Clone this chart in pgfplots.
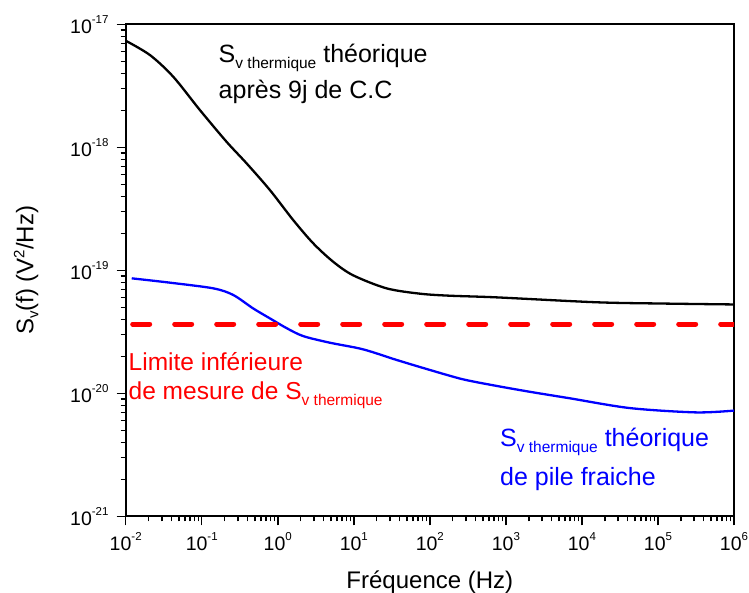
\documentclass[border=0pt]{standalone}
\usepackage{fontspec}
\setmainfont{Liberation Sans}
\usepackage{pgfplots}
\pgfplotsset{compat=1.18}
\newcommand{\sub}[1]{\raisebox{-6pt}{\fontsize{15.5}{15.5}\selectfont #1}}
\newcommand{\sups}[1]{\raisebox{10pt}{\fontsize{11.5}{11.5}\selectfont #1}}
\newcommand{\lsub}[1]{\raisebox{-5pt}{\fontsize{15}{15}\selectfont #1}}
\newcommand{\lsup}[1]{\raisebox{9pt}{\fontsize{15}{15}\selectfont #1}}
\definecolor{myred}{RGB}{255,0,0}
\definecolor{myblue}{RGB}{0,0,255}

\pgfplotstableread{
x y
0.01 7.36e-18
0.0209 5.62e-18
0.0422 3.75e-18
0.0946 2.01e-18
0.212 1.11e-18
0.389 7.41e-19
0.787 4.50e-19
1.59 2.57e-19
2.92 1.66e-19
5.35 1.175e-19
9.77 9.12e-20
26.9 7.14e-20
74.1 6.46e-20
182 6.22e-20
750 6.03e-20
15500 5.50e-20
116000 5.37e-20
1000000 5.28e-20
}\blackdata

\pgfplotstableread{
x y
0.0120 8.61e-20
0.0382 7.94e-20
0.1416 7.14e-20
0.259 6.31e-20
0.475 4.90e-20
0.787 4.07e-20
1.306 3.39e-20
2.16 2.92e-20
4.84 2.58e-20
13.2 2.28e-20
36.4 1.87e-20
99.8 1.55e-20
273 1.30e-20
750 1.15e-20
2056 1.03e-20
6890 9.12e-21
42700 7.59e-21
316000 7.00e-21
1000000 7.24e-21
}\bluedata

\begin{document}
\begin{tikzpicture}
\path[use as bounding box] (-125.7pt,-75.7pt) rectangle (623.3pt,516.3pt);
\begin{axis}[
  at={(0pt,0pt)}, anchor=south west,
  scale only axis, width=608.3pt, height=492pt,
  xmode=log, ymode=log,
  xmin=1e-2, xmax=1e6, ymin=1e-21, ymax=1e-17,
  axis line style={line width=2pt},
  tick align=outside, xtick pos=bottom, ytick pos=left,
  major tick length=9pt, minor tick length=5pt,
  every tick/.style={black, line width=1.5pt},
  /pgf/number format/assume math mode=true,
  log number format basis/.code 2 args={10\sups{\pgfmathprintnumber{#2}}},
  ticklabel style={font=\fontsize{19.5}{19.5}\selectfont},
  xticklabel style={anchor=base, inner sep=0pt, yshift=-25pt},
  yticklabel style={anchor=east, inner sep=0pt, xshift=-8pt},
  xlabel={Fréquence (Hz)},
  xlabel style={at={(rel axis cs:0.5,-0.1457)}, anchor=base, inner sep=0pt, font=\fontsize{24}{24}\selectfont},
  ylabel={S\lsub{v}(f) (V\lsup{2}/Hz)},
  ylabel style={at={(rel axis cs:-0.1516,0.5)}, anchor=base, inner sep=0pt, font=\fontsize{24}{24}\selectfont},
  clip=true,
]
\addplot[black, line width=2.3pt, smooth] table {\blackdata};
\addplot[myblue, line width=2.3pt, smooth] table {\bluedata};
\addplot[myred, line width=5pt, line cap=round, dash pattern=on 17pt off 25pt, dash phase=35pt] coordinates {(0.01,3.66e-20) (1000000,3.66e-20)};

\node[anchor=base west, inner sep=0pt, font=\fontsize{25}{25}\selectfont] at (rel axis cs:0.1526,0.9234) {S\sub{v thermique} théorique};
\node[anchor=base west, inner sep=0pt, font=\fontsize{25}{25}\selectfont] at (rel axis cs:0.1526,0.8502) {après 9j de C.C};

\node[anchor=base west, inner sep=0pt, text=myred, font=\fontsize{24.5}{24.5}\selectfont] at (rel axis cs:0.0046,0.2974) {Limite inférieure};
\node[anchor=base west, inner sep=0pt, text=myred, font=\fontsize{24.5}{24.5}\selectfont] at (rel axis cs:0.0046,0.2384) {de mesure de S\sub{v thermique}};

\node[anchor=base west, inner sep=0pt, text=myblue, font=\fontsize{25}{25}\selectfont] at (rel axis cs:0.6153,0.1415) {S\sub{v thermique} théorique};
\node[anchor=base west, inner sep=0pt, text=myblue, font=\fontsize{25}{25}\selectfont] at (rel axis cs:0.6153,0.0636) {de pile fraiche};
\end{axis}
\end{tikzpicture}
\end{document}
